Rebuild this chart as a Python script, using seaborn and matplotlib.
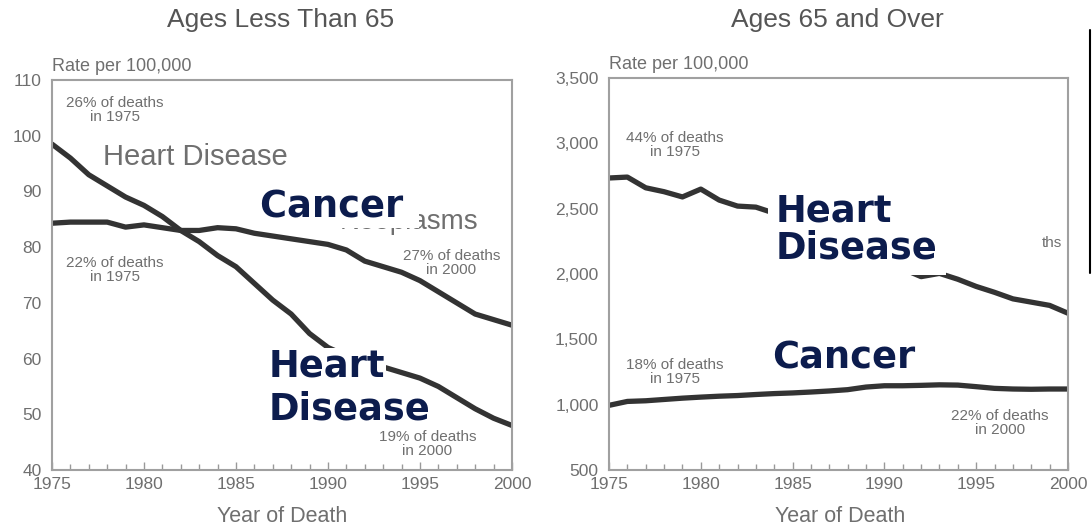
import numpy as np
import pandas as pd
import matplotlib
matplotlib.use("Agg")
import matplotlib.pyplot as plt
import seaborn as sns
from matplotlib.lines import Line2D
from matplotlib.ticker import MultipleLocator, FuncFormatter

# Death rates per 100,000, 1975-2000
years = list(range(1975, 2001))

heart_under65 = [98.5, 96.0, 93.0, 91.0, 89.0, 87.5, 85.5, 83.0, 81.0, 78.5,
                 76.5, 73.5, 70.5, 68.0, 64.5, 62.0, 60.5, 59.5, 58.5, 57.5,
                 56.5, 55.0, 53.0, 51.0, 49.3, 48.0]
cancer_under65 = [84.3, 84.5, 84.5, 84.5, 83.6, 84.0, 83.5, 83.0, 83.0, 83.5,
                  83.3, 82.5, 82.0, 81.5, 81.0, 80.5, 79.5, 77.5, 76.5, 75.5,
                  74.0, 72.0, 70.0, 68.0, 67.0, 66.0]

heart_65over = [2735, 2742, 2660, 2630, 2590, 2650, 2566, 2520, 2512, 2466,
                2400, 2340, 2280, 2220, 2150, 2090, 2040, 1980, 2005, 1960,
                1905, 1860, 1810, 1785, 1760, 1700]
cancer_65over = [995, 1025, 1030, 1040, 1050, 1058, 1065, 1070, 1078, 1085,
                 1090, 1097, 1105, 1115, 1135, 1145, 1145, 1148, 1152, 1150,
                 1138, 1125, 1120, 1118, 1120, 1120]

titles = ["Ages Less Than 65", "Ages 65 and Over"]

GRAY = "#6f6f6f"
LINE = "#333333"
NAVY = "#0c1c4d"

sns.set_style("white")
plt.rcParams["font.family"] = ["Liberation Sans", "DejaVu Sans"]

fig = plt.figure(figsize=(10.92, 5.28), dpi=100)
ax1 = fig.add_axes([0.0476, 0.1098, 0.4212, 0.7386])
ax2 = fig.add_axes([0.5577, 0.1098, 0.4203, 0.7424])

df1 = pd.DataFrame({"Year": years * 2,
                    "Rate": heart_under65 + cancer_under65,
                    "Cause": ["Heart"] * len(years) + ["Cancer"] * len(years)})
df2 = pd.DataFrame({"Year": years * 2,
                    "Rate": heart_65over + cancer_65over,
                    "Cause": ["Heart"] * len(years) + ["Cancer"] * len(years)})

for ax, df in [(ax1, df1), (ax2, df2)]:
    sns.lineplot(data=df, x="Year", y="Rate", units="Cause", estimator=None,
                 color=LINE, linewidth=3.8, ax=ax, zorder=2)
    ax.set_xlim(1975, 2000)
    ax.xaxis.set_major_locator(MultipleLocator(5))
    ax.xaxis.set_minor_locator(MultipleLocator(1))
    ax.tick_params(axis="x", which="both", direction="in", bottom=True,
                   color="#999999", length=4, width=1)
    ax.tick_params(axis="x", which="major", length=6)
    ax.tick_params(axis="both", labelsize=12.5, labelcolor=GRAY, pad=5)
    ax.tick_params(axis="y", left=False, pad=4)
    for s in ax.spines.values():
        s.set_color("#a0a0a0")
        s.set_linewidth(1.5)
    ax.set_xlabel("")
    ax.set_ylabel("")
    ax.text(0.0, 1.012, "Rate per 100,000", transform=ax.transAxes,
            fontsize=13, color=GRAY, ha="left", va="bottom")

ax1.set_ylim(40, 110)
ax1.yaxis.set_major_locator(MultipleLocator(10))
ax2.set_ylim(500, 3500)
ax2.yaxis.set_major_locator(MultipleLocator(500))
ax2.yaxis.set_major_formatter(FuncFormatter(lambda v, p: f"{int(v):,}"))

fig.text(0.257, 0.962, titles[0], fontsize=19, color="#555555", ha="center", va="center")
fig.text(0.767, 0.962, titles[1], fontsize=19, color="#555555", ha="center", va="center")
fig.text(0.258, 0.022, "Year of Death", fontsize=15.5, color=GRAY, ha="center", va="center")
fig.text(0.769, 0.022, "Year of Death", fontsize=15.5, color=GRAY, ha="center", va="center")

small = dict(fontsize=11, color=GRAY, ha="center", va="center", linespacing=1.0)
big = dict(fontsize=26.5, fontweight="bold", color=NAVY, family="DejaVu Sans",
           ha="left", va="center", zorder=5)

# left panel annotations
ax1.text(1978.4, 104.6, "26% of deaths\nin 1975", **small)
ax1.text(1977.8, 96.2, "Heart Disease", fontsize=21, color=GRAY, ha="left", va="center")
ax1.text(1998.2, 84.5, "Neoplasms", fontsize=20, color=GRAY, ha="right", va="center")
ax1.text(1978.4, 75.9, "22% of deaths\nin 1975", **small)
ax1.text(1996.7, 77.2, "27% of deaths\nin 2000", **small)
ax1.text(1995.4, 44.7, "19% of deaths\nin 2000", **small)
ax1.text(1986.3, 87.3, "Cancer ", **big,
         bbox=dict(facecolor="white", edgecolor="none", pad=2))
ax1.text(1986.8, 58.6, "Heart", **big,
         bbox=dict(facecolor="white", edgecolor="none", pad=0))
ax1.text(1986.8, 51.0, "Disease", **big)

# right panel annotations
ax2.text(1978.6, 2987, "44% of deaths\nin 1975", **small)
ax2.text(1999.1, 2237, "ths", **small)
ax2.text(1978.6, 1250, "18% of deaths\nin 1975", **small)
ax2.text(1996.3, 860, "22% of deaths\nin 2000", **small)
ax2.text(1984.1, 2340, "Heart\nDisease", linespacing=1.0, **big,
         bbox=dict(facecolor="white", edgecolor="none", pad=6))
ax2.text(1983.9, 1357, "Cancer", **big)

# dark edge seen at the right of the scan
fig.add_artist(Line2D([0.998, 0.998], [0.483, 0.943], color="black", linewidth=1.5))

fig.savefig("out.png", dpi=100, facecolor="white")
